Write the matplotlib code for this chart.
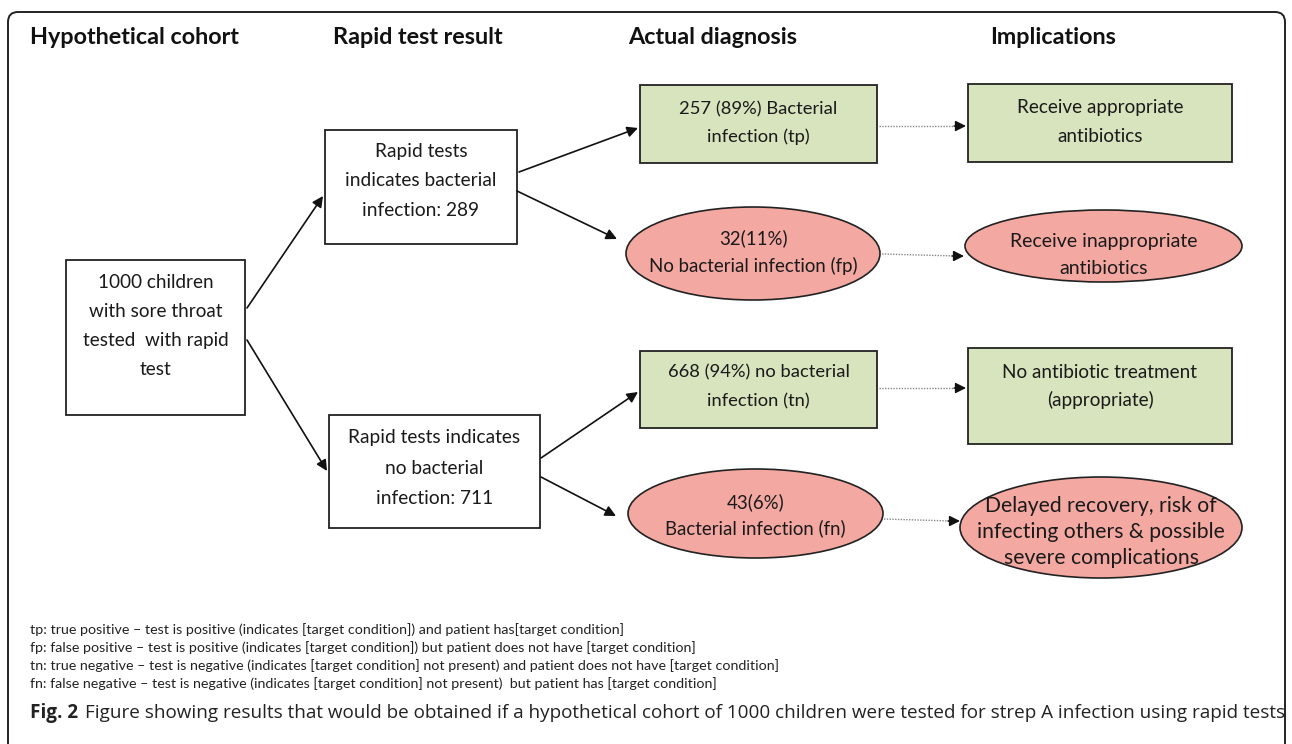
import matplotlib
matplotlib.use('Agg')
import matplotlib.pyplot as plt
from matplotlib.patches import Rectangle, Ellipse, FancyBboxPatch

# ---- data -------------------------------------------------------------
cohort = 1000
test_pos, test_neg = 289, 711
tp, fp = 257, 32
tn, fn = 668, 43

column_titles = ['Hypothetical cohort', 'Rapid test result', 'Actual diagnosis', 'Implications']
implications = [
    'Receive appropriate\nantibiotics',
    'Receive inappropriate\nantibiotics',
    'No antibiotic treatment\n(appropriate)',
    'Delayed recovery, risk of\ninfecting others & possible\nsevere complications',
]
footnotes = [
    'tp: true positive \u2013 test is positive (indicates [target condition]) and patient has[target condition]',
    'fp: false positive \u2013 test is positive (indicates [target condition]) but patient does not have [target condition]',
    'tn: true negative \u2013 test is negative (indicates [target condition] not present) and patient does not have [target condition]',
    'fn: false negative \u2013 test is negative (indicates [target condition] not present)  but patient has [target condition]',
]
caption_label = 'Fig. 2'
caption_text = ('Figure showing results that would be obtained if a hypothetical cohort of '
                '1000 children were tested for strep A infection using rapid tests')


def pct(part, whole):
    return round(100 * part / whole)


labels = {
    'cohort': f'{cohort} children\nwith sore throat\ntested  with rapid\ntest',
    'pos': f'Rapid tests\nindicates bacterial\ninfection: {test_pos}',
    'neg': f'Rapid tests indicates\nno bacterial\ninfection: {test_neg}',
    'tp': f'{tp} ({pct(tp, test_pos)}%) Bacterial\ninfection (tp)',
    'fp': f'{fp}({pct(fp, test_pos)}%)\nNo bacterial infection (fp)',
    'tn': f'{tn} ({pct(tn, test_neg)}%) no bacterial\ninfection (tn)',
    'fn': f'{fn}({pct(fn, test_neg)}%)\nBacterial infection (fn)',
    'imp_tp': implications[0],
    'imp_fp': implications[1],
    'imp_tn': implications[2],
    'imp_fn': implications[3],
}

# ---- layout (pixel coords, y downwards) -------------------------------
GREEN = '#d7e4bd'
RED = '#f4a8a2'
# shape, x0, y0, x1, y1, text centre y, line pitch, font size, fill
nodes = {
    'cohort': ('rect', 66, 260, 245, 415, 326, 28.7, 13.6, 'white'),
    'pos':    ('rect', 325, 130, 517, 244, 181, 29, 13.8, 'white'),
    'neg':    ('rect', 329, 415, 540, 528, 468, 30, 13.8, 'white'),
    'tp':     ('rect', 640, 85, 877, 163, 123, 28, 13.2, GREEN),
    'imp_tp': ('rect', 968, 84, 1232, 162, 122, 28, 13.6, GREEN),
    'fp':     ('ell', 626, 207, 880, 300, 252, 28, 13.4, RED),
    'imp_fp': ('ell', 965, 210, 1242, 282, 255, 26, 14.0, RED),
    'tn':     ('rect', 640, 351, 877, 428, 387, 29, 13.2, GREEN),
    'imp_tn': ('rect', 968, 348, 1232, 444, 386, 28, 13.6, GREEN),
    'fn':     ('ell', 628, 469, 883, 558, 515, 26, 13.4, RED),
    'imp_fn': ('ell', 960, 477, 1242, 578, 532, 25.5, 15.2, RED),
}
title_x = [30, 333, 628, 990]

solid_arrows = [
    (247, 308, 323, 196), (247, 340, 327, 471),
    (519, 172, 638, 128), (517, 191, 617, 239),
    (541, 458, 638, 392), (541, 477, 616, 516),
]
dotted_arrows = [
    (879, 126, 966, 126), (882, 254, 964, 256),
    (879, 388, 966, 388), (884, 519, 960, 521),
]

FONT = 'Lato'
fig = plt.figure(figsize=(12.92, 7.44), dpi=100)
ax = fig.add_axes([0, 0, 1, 1])
ax.set_xlim(0, 1292)
ax.set_ylim(744, 0)
ax.axis('off')

# outer frame
ax.add_patch(FancyBboxPatch((8, 12), 1277, 780, boxstyle='round,pad=0,rounding_size=10',
                            fill=False, ec='#222222', lw=1.4))

for x, t in zip(title_x, column_titles):
    ax.text(x, 38, t, ha='left', va='center', fontsize=16.8, fontweight='bold',
            family=FONT, color='#111111')

for key, (shape, x0, y0, x1, y1, ty, pitch, fs, fill) in nodes.items():
    if shape == 'rect':
        ax.add_patch(Rectangle((x0, y0), x1 - x0, y1 - y0, fc=fill, ec='#222222', lw=1.3))
    else:
        ax.add_patch(Ellipse(((x0 + x1) / 2, (y0 + y1) / 2), x1 - x0, y1 - y0,
                             fc=fill, ec='#222222', lw=1.2))
    lines = labels[key].split('\n')
    n = len(lines)
    for i, line in enumerate(lines):
        ax.text((x0 + x1) / 2, ty + (i - (n - 1) / 2) * pitch, line, ha='center', va='center',
                fontsize=fs, family=FONT, color='#1a1a1a')

for x0, y0, x1, y1 in solid_arrows:
    ax.annotate('', xy=(x1, y1), xytext=(x0, y0),
                arrowprops=dict(arrowstyle='-|>', color='#111111', lw=1.2,
                                mutation_scale=16, shrinkA=0, shrinkB=0))

for x0, y0, x1, y1 in dotted_arrows:
    ax.plot([x0, x1 - 8], [y0, y1], ls=(0, (1, 1)), color='#888888', lw=1.0)
    ax.annotate('', xy=(x1, y1), xytext=(x1 - 12, y1),
                arrowprops=dict(arrowstyle='-|>', color='#111111', lw=1.0,
                                mutation_scale=16, shrinkA=0, shrinkB=0))

for i, line in enumerate(footnotes):
    ax.text(30, 630 + i * 18, line, ha='left', va='center', fontsize=10.3,
            family=FONT, color='#222222')

# caption, sized so it runs from the left margin to the right margin
cap_size = 12
lab = ax.text(30, 713, caption_label, ha='left', va='center', fontsize=cap_size,
              fontweight='bold', family='Open Sans', color='#222222')
body = ax.text(0, 713, caption_text, ha='left', va='center', fontsize=cap_size,
               family='Open Sans', color='#222222')
fig.canvas.draw()
r = fig.canvas.get_renderer()
total = lab.get_window_extent(r).width + 6 + body.get_window_extent(r).width
scale = (1278 - 30) / total
lab.set_fontsize(cap_size * scale)
body.set_fontsize(cap_size * scale)
fig.canvas.draw()
body.set_x(lab.get_window_extent(r).x1 + 6 * scale)

fig.savefig('out.png', dpi=100)
